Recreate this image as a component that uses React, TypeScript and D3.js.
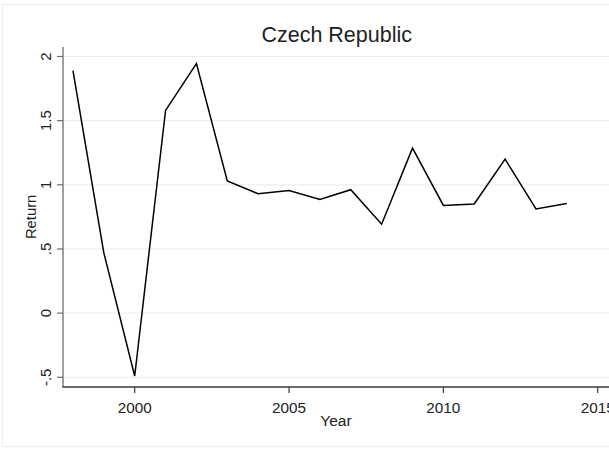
import React from "react";
import * as d3 from "d3";

const years = [1998, 1999, 2000, 2001, 2002, 2003, 2004, 2005, 2006, 2007, 2008, 2009, 2010, 2011, 2012, 2013, 2014];
const returns = [1.89, 0.47, -0.49, 1.58, 1.945, 1.03, 0.93, 0.955, 0.885, 0.962, 0.693, 1.286, 0.839, 0.851, 1.2, 0.812, 0.855];
const yTicks = [-0.5, 0, 0.5, 1, 1.5, 2];
const yTickLabels = ["-.5", "0", ".5", "1", "1.5", "2"];
const xTicks = [2000, 2005, 2010, 2015];

const W = 609;
const H = 450;

export default function App() {
  const x = d3.scaleLinear().domain([2000, 2015]).range([134.7, 597.7]);
  const y = d3.scaleLinear().domain([-0.5, 2]).range([377.3, 56.5]);
  const line = d3
    .line<number>()
    .x((_, i) => x(years[i]))
    .y((d) => y(d));
  const axisX = 63;
  const axisY = 387;
  const font = "'Liberation Sans', Arial, Helvetica, sans-serif";

  return (
    <svg
      width={W}
      height={H}
      style={{ position: "absolute", left: 0, top: 0, background: "#fff" }}
      fontFamily={font}
    >
      <rect x={0} y={0} width={W} height={H} fill="#ffffff" />
      <rect x={2.5} y={4.5} width={W + 10} height={442} fill="none" stroke="#e8eef0" strokeWidth={1} />
      {yTicks.map((t) => (
        <line key={"g" + t} x1={axisX} x2={W} y1={y(t)} y2={y(t)} stroke="#e9f0f2" strokeWidth={1.2} />
      ))}
      <path d={line(returns) || ""} fill="none" stroke="#000" strokeWidth={1.5} strokeLinejoin="miter" />
      <line x1={axisX} x2={axisX} y1={47} y2={axisY} stroke="#6e6e6e" strokeWidth={1.3} />
      <line x1={axisX - 0.6} x2={W} y1={axisY} y2={axisY} stroke="#3a3a3a" strokeWidth={1.3} />
      {yTicks.map((t, i) => (
        <g key={"yt" + t}>
          <line x1={axisX - 6} x2={axisX} y1={y(t)} y2={y(t)} stroke="#6e6e6e" strokeWidth={1.2} />
          <text
            transform={`translate(${axisX - 12},${y(t)}) rotate(-90)`}
            textAnchor="middle"
            fontSize={15}
            fill="#222"
          >
            {yTickLabels[i]}
          </text>
        </g>
      ))}
      {xTicks.map((t) => (
        <g key={"xt" + t}>
          <line x1={x(t)} x2={x(t)} y1={axisY} y2={axisY + 6} stroke="#3a3a3a" strokeWidth={1.2} />
          <text x={x(t)} y={axisY + 26} textAnchor="middle" fontSize={15.3} fill="#222">
            {t}
          </text>
        </g>
      ))}
      <text x={336} y={426} textAnchor="middle" fontSize={15.5} fill="#222">
        Year
      </text>
      <text transform={`translate(35.5,${y(0.75)}) rotate(-90)`} textAnchor="middle" fontSize={14.8} fill="#222">
        Return
      </text>
      <text x={336.7} y={41.5} textAnchor="middle" fontSize={21.5} fill="#222">
        Czech Republic
      </text>
    </svg>
  );
}
